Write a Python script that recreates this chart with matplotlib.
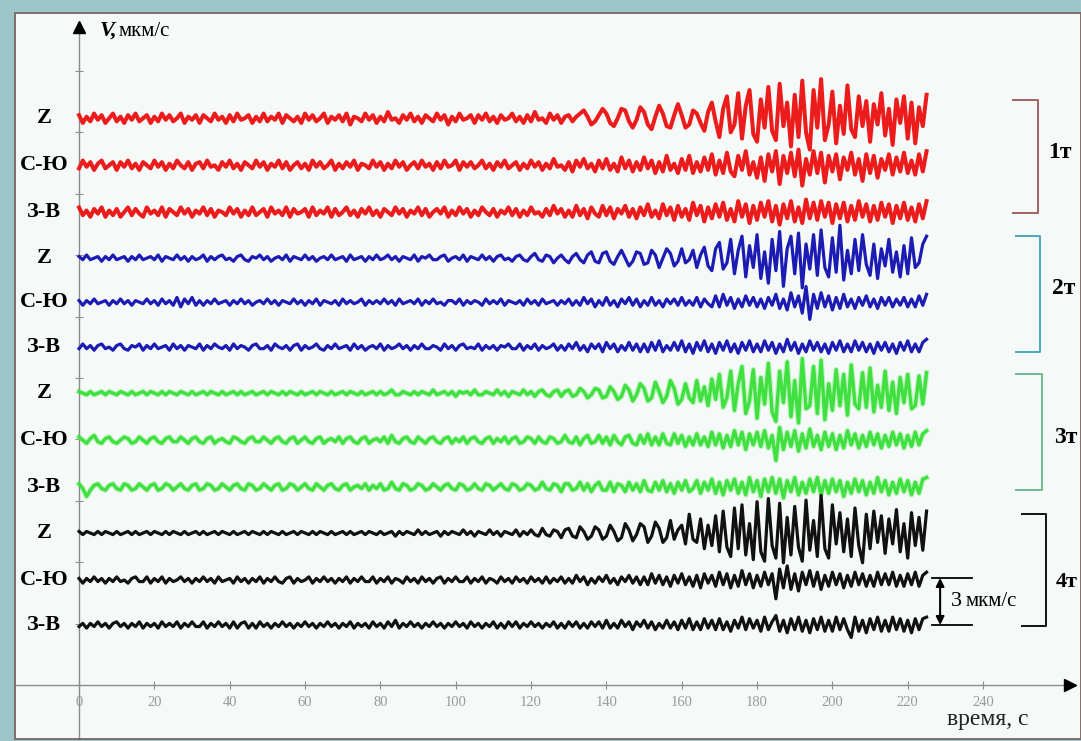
import numpy as np
import matplotlib.pyplot as plt
from matplotlib.patches import Rectangle

# velocity, tenths of мкм/с, one reading per second from 0 to 225 s
RED_Z = """
2 -3 1 -2 3 -1 2 -3 0 3   -2 1 -3 2 -1 3 -2 0 2 -3   1 -2 3 -1 2 -2 0 3 -3 1
-1 2 -3 2 0 -2 3 -1 1 -3  2 -2 3 -1 0 2 -3 1 -2 3   -2 1 -1 3 -3 2 0 -2 1 -3
3 -1 2 -2 0 3 -3 1 -1 2   -2 3 -4 1 0 -2 3 -1 2 -3   1 -2 4 -1 0 -3 2 -1 3 -2
1 -3 2 0 -2 3 -1 2 -4 1   -2 3 -1 0 2 -3 2 -1 3 -2   1 -3 2 -1 0 3 -2 1 -3 2
-2 4 -1 0 -3 3 -1 2 -3 1  2 -2 1 3 5 1 -4 -2 2 6    3 -3 -5 0 6 5 -2 -6 -1 7
4 -4 -7 1 8 3 -5 -6 2 9   2 -6 -4 5 3 -3 -8 4 10 -2  -12 6 14 -9 -4 16 -13 8 18 -10
-15 12 -6 20 -8 -14 22 -5 10 -18  15 -12 24 -9 -20 18 -6 25 -14 -4
17 -16 8 -10 21 -7 -12 14 -5 11   -15 9 -4 16 -11 6 -17 12 -3 14   -13 10 -16 7 -5 15
"""
RED_NS = """
-2 3 -1 2 -3 1 3 -2 0 2   -3 2 -1 3 -2 1 -3 2 0 -2   3 -1 2 -3 1 -2 3 0 -2 2
-3 1 2 -2 3 -1 0 -3 2 -1  3 -2 1 -3 2 0 -2 3 -1 2   -3 1 -1 3 -2 2 -3 0 2 -2
1 -3 3 -1 2 -2 0 3 -3 1   -2 2 -1 3 -3 1 0 -2 3 -1   2 -3 1 -2 3 -1 2 -3 0 2
-2 3 -1 1 -3 2 -2 3 -1 0  3 -3 2 -1 2 -2 0 3 -2 1   -3 2 -1 3 -2 0 2 -3 1 -2
3 -1 2 -3 1 -2 4 -1 0 -3  2 -4 3 -1 4 -2 1 -4 3 -2   4 -3 1 -4 5 -2 3 -4 2 -3
5 -2 3 -5 2 -4 6 -3 1 -5  4 -3 6 -5 2 -4 5 -3 7 -6   3 -5 8 -4 -7 6 -3 9 -6 2
-8 5 -10 7 -4 9 -12 6 -5 8  -7 10 -13 4 -6 9 -5 8 -11 6
-4 7 -9 5 -3 8 -6 4 -10 7   -5 6 -8 4 -3 7 -6 5 -4 8   -5 3 -6 7 -4 9
"""
RED_EW = """
3 -2 1 -3 2 -1 3 -3 1 -2  2 -3 0 3 -2 2 -1 -3 3 -1   1 -2 3 -3 2 0 -2 3 -1 2
-3 1 -1 3 -2 2 -3 1 0 -2  3 -1 2 -3 1 -2 3 -2 0 2    -3 3 -1 1 -2 3 -3 2 -1 0
2 -3 3 -2 1 -1 3 -3 2 -2  0 3 -2 1 -3 2 -1 3 -2 1    -3 2 0 -2 3 -1 2 -3 1 -1
3 -2 2 -3 0 2 -1 3 -3 1   -2 3 -1 2 -3 1 -2 3 0 -2   2 -3 1 -1 3 -2 2 -3 1 -2
3 -1 0 -3 2 -2 4 -1 2 -3  1 -3 4 -2 2 -4 3 -1 -3 4   -2 3 -4 2 -1 4 -3 2 -4 3
-2 5 -3 1 -4 5 -2 3 -5 4  -3 2 -5 6 -2 4 -6 3 -4 5   -3 6 -5 2 -6 7 -3 5 -7 4
-5 6 -3 7 -6 4 -8 5 -4 7  -6 3 -7 8 -4 6 -5 7 -3 6
-7 5 -4 6 -6 4 -5 7 -3 5  -6 4 -5 6 -3 5 -7 4 -4 6   -5 3 -6 5 -4 7
"""
BLUE_Z = """
1 -1 2 -1 0 1 -2 1 -1 2   -1 0 1 -2 1 -1 2 -1 0 1   -1 2 -2 1 0 -1 2 -1 1 -2
1 -1 0 2 -2 1 -1 1 2 -1   0 -2 1 2 -1 -2 1 0 2 -1   1 -2 0 1 -1 2 -2 1 0 -1
2 -1 1 -2 0 1 -1 2 -1 0   1 -2 2 -1 0 1 -2 1 -1 2   -1 0 2 -1 1 -2 1 0 -1 2
-2 1 0 2 -1 -1 1 2 -2 0   1 -1 2 -2 1 0 -1 2 -1 1   -2 1 2 -1 0 -2 1 2 -1 -2
1 3 -1 -2 2 1 -3 0 2 -1   -3 1 3 -1 -3 2 4 -2 -3 3   4 -2 -4 1 5 0 -5 -2 4 3
-4 -3 5 2 -6 0 6 3 -5 -2  6 -3 -1 5 -6 2 7 -5 -8 6   10 -7 -3 12 -10 5 14 -12 8 -6
15 -13 4 -16 12 -8 17 -18 6 14   -10 16 -19 9 -7 15 -11 18 -6 -12
13 -9 21 -14 5 -10 12 -8 15 -4   -11 9 -13 6 -5 12 -9 4 -12 8   -10 13 -6 -3 9 14
"""
BLUE_NS = """
1 -2 1 -1 2 -1 0 1 -2 1   -1 2 -1 1 -2 1 0 -1 2 -1   1 -2 2 -1 1 -2 3 -3 2 -1
3 -2 1 -2 1 -1 2 -1 0 1   -2 1 -1 2 -1 1 -2 0 1 -1   2 -1 1 -2 1 0 -1 2 -1 1
-2 1 -1 2 -2 1 0 -1 1 -2  2 -1 1 -1 0 2 -2 1 -1 1    -1 2 -1 1 -2 2 -1 0 1 -1
2 -2 1 -1 2 -1 0 -2 1 1   -1 2 -2 1 -1 1 0 -2 2 -1   1 -1 2 -2 1 0 -1 1 -2 2
-1 1 -2 2 -1 0 1 -2 1 -1  2 -2 1 -2 3 -1 2 -3 1 -2   3 -2 1 -3 2 -1 3 -2 2 -3
1 -2 3 -2 1 -3 2 -1 2 -2  3 -2 1 -2 3 -3 2 -1 -3 4   -3 5 -2 3 -4 2 -3 4 -2 3
-3 2 -4 3 -2 5 -4 2 -5 6  -3 4 -7 10 -11 5 -4 6 -3 4
-5 3 -4 5 -3 2 -4 3 -2 4  -3 2 -4 3 -2 3 -3 2 -2 3   -3 2 -3 4 -2 5
"""
BLUE_EW = """
-1 2 -1 1 -2 1 2 -1 0 -2  1 2 -1 -2 1 0 2 -2 1 -1    2 -1 0 1 -2 2 -1 1 -2 1
0 -1 2 -2 1 -1 2 0 -1 1   -2 2 -1 1 0 -2 1 2 -1 -1   1 -2 2 0 -1 1 -2 1 2 -2
1 -1 0 2 -1 -2 1 -1 2 -1  0 1 -2 2 -1 1 -2 0 1 -1    2 -2 1 -1 0 2 -1 1 -2 1
-1 2 -1 -1 1 0 -2 2 -1 1  -2 1 2 -1 0 -1 2 -2 1 -1   1 -2 1 0 2 -1 -1 2 -2 1
-1 2 -2 1 -1 0 2 -2 1 -2  2 -1 3 -2 1 -3 2 -1 2 -3   3 -1 2 -3 1 -2 3 -2 2 -3
2 -3 3 -2 4 -3 1 -2 3 -2  4 -3 2 -4 3 -2 4 -3 2 -4   3 -2 4 -3 2 -4 3 -2 4 -3
2 -3 4 -2 3 -4 2 -3 5 -2  3 -4 2 -3 4 -2 3 -3 2 -4
3 -2 4 -3 2 -3 4 -2 3 -3  2 -4 3 -2 3 -3 2 -4 3 -2   4 -3 2 -3 3 5
"""
GREEN_Z = """
1 0 -1 1 -1 0 1 -1 1 0    -1 1 0 -1 1 -1 0 1 -1 1    0 -1 1 -1 1 0 -1 1 0 -1
1 -1 0 1 -1 1 0 -1 1 -1   0 1 -1 1 -1 0 1 -1 0 1     -1 1 0 -1 1 -1 1 0 -1 1
-1 0 1 -1 1 0 -1 1 -1 0   1 -1 1 0 -1 1 -1 0 1 -1    1 -1 0 2 -1 -1 1 0 -1 1
-1 1 0 -1 2 -1 0 1 -1 1   -2 1 0 1 -1 2 -1 -1 1 0    -1 2 -1 1 -2 1 0 -1 2 -1
1 -2 1 2 -1 -2 1 2 -2 1   2 -2 -1 3 1 -3 -1 3 2 -3   -2 4 1 -4 -2 5 2 -5 -1 6
3 -5 -3 7 1 -6 -2 8 3 -7  -4 6 -3 -6 8 -5 4 -8 9 -4  12 -9 -3 14 -11 6 17 -13 -5 15
-16 10 -7 19 -12 -18 14 -6 20 -15   8 -19 22 -10 -8 17 -13 21 -17 6
-11 15 -8 12 -14 18 -7 -10 13 -9    16 -12 5 -9 14 -11 7 -13 10 -6   12 -10 -8 11 -7 13
"""
GREEN_NS = """
2 0 -2 1 3 -1 -2 1 2 -1   -2 0 2 1 -2 -1 2 0 -2 1    2 -1 -2 1 2 -1 -1 2 0 -2
1 2 -1 -2 1 2 -2 0 1 -1   -2 2 1 -1 -2 1 2 -1 -1 2   0 -2 1 2 -1 -2 1 2 -2 0
2 -1 -2 1 2 -2 0 1 -1 2   -2 1 2 -1 -2 1 2 -2 0 1    -1 2 -2 3 -1 -2 1 2 -1 -2
2 0 -2 1 2 -1 -2 1 2 -2   1 -1 2 -2 1 2 -1 -2 1 2    -2 1 -1 2 -2 1 2 -2 -1 2
1 -2 2 -1 -2 2 1 -2 -1 3  -1 -2 2 -3 1 3 -2 -1 3 -2  2 -3 3 -1 -3 2 3 -2 -3 3
-2 4 -3 2 -3 4 -2 -3 4 -2 3 -4 2 -3 4 -3 2 -4 5 -3   4 -5 3 -4 6 -3 5 -6 4 -3
5 -4 6 -5 3 -13 8 -6 5 -4  6 -7 4 -5 7 -4 3 -6 5 -4
4 -6 3 -5 6 -3 4 -5 3 -4   5 -3 4 -5 3 -4 5 -3 4 -5   3 -4 5 -3 4 6
"""
GREEN_EW = """
2 -1 -6 -2 1 2 -1 -2 1 2  -1 -2 2 1 -2 -1 2 0 -2 1   2 -2 -1 2 1 -2 0 2 -1 -2
1 2 -2 -1 2 1 -2 -1 2 0   -2 1 2 -1 -2 2 1 -2 -1 2   0 -2 1 2 -2 -1 2 1 -2 0
2 -1 -2 2 0 -2 1 2 -1 -2  1 2 -2 0 1 -1 2 -2 1 -1    2 -2 -1 3 -1 -2 2 1 -2 -1
2 1 -2 -1 2 0 -2 1 2 -1   -2 2 1 -2 -1 2 -1 -2 2 1   -2 0 2 -1 -2 2 1 -2 -1 2
1 -2 -1 3 -1 -2 2 1 -3 2  2 -2 -1 3 -2 2 -3 1 3 -2   -2 3 -3 2 1 -3 3 -2 2 -3
4 -2 -3 3 -2 4 -3 2 -4 3  -2 4 -3 -1 4 -4 3 -2 5 -4  3 -5 4 -2 5 -4 3 -5 6 -3
4 -6 5 -3 6 -4 5 -7 4 -3  6 -5 3 -4 5 -3 6 -5 4 -4
5 -3 4 -6 3 -4 5 -3 4 -5  3 -4 6 -3 4 -5 3 -4 5 -3   4 -5 3 -4 5 6
"""
BLACK_Z = """
1 -1 1 0 -1 1 -1 1 0 -1   1 -1 0 1 -1 1 -1 0 1 -1    1 0 -1 1 -1 1 0 -1 1 -1
0 1 -1 1 -1 0 1 -1 1 0    -1 1 -1 0 1 -1 1 0 -1 1    -1 1 0 -1 1 -1 0 1 -1 1
0 -1 1 -1 1 0 -1 1 -1 0   1 -1 1 -1 0 1 -1 1 0 -1    1 -1 0 1 -2 1 -1 1 0 -1
2 -1 1 -1 0 1 -2 1 -1 1   0 -1 2 -1 1 -2 1 0 -1 2    -1 1 -2 1 0 -1 2 -2 1 -1
2 -1 -2 3 -1 -2 2 1 -3 2  3 -2 -3 4 1 -4 -2 4 2 -4   -2 5 1 -5 -3 6 2 -5 -1 6
4 -6 -2 7 3 -6 -3 8 -4 2  5 -7 12 -4 -6 9 -10 5 -8 11  -12 14 -9 -15 16 -10 18 -14 6 -17
20 -12 -18 22 -8 -16 19 -19 10 -14   17 -9 -18 21 -11 8 -15 24 -10 -16
18 -7 13 -12 9 -15 16 -8 -19 12      -10 14 -6 11 -13 9 -7 15 -12 6   -16 13 -8 10 -11 14
"""
BLACK_NS = """
1 -2 1 -1 2 -1 1 -2 1 -1  2 -1 0 -2 1 2 -1 -1 2 -2   1 -1 2 -2 1 -1 0 2 -1 1
-2 1 -1 2 -1 1 -2 2 -1 0  1 -2 2 -1 1 -2 1 -1 2 -2   1 -1 2 -1 -2 1 2 -2 1 -1
0 2 -2 1 -1 2 -1 1 -2 1   -1 2 -2 1 -1 2 -1 -1 2 -2  1 -1 2 -2 1 0 -2 2 -1 1
-2 2 -1 1 -2 1 2 -2 1 -1  2 -1 -1 2 -2 1 -1 2 -2 1   0 -2 2 -1 1 -2 2 -1 1 -2
2 -1 1 -2 2 -2 1 -1 2 -2  1 -2 3 -1 2 -3 1 -2 2 -1   3 -2 1 -3 2 -1 3 -2 2 -3
2 -3 4 -2 3 -3 2 -4 3 -2  4 -3 2 -4 3 -5 4 -2 3 -4   5 -3 4 -5 3 -4 6 -3 4 -5
3 -4 5 -3 4 -12 7 -5 9 -6  4 -7 5 -3 6 -4 5 -6 3 -4
5 -3 4 -5 3 -4 5 -3 4 -4   3 -4 5 -3 4 -3 5 -4 3 -4   4 -3 5 -4 3 5
"""
BLACK_EW = """
-1 1 -2 1 -1 2 -1 1 -2 1  2 -1 1 -2 1 -1 2 -2 1 -1   1 -2 2 -1 1 -1 2 -2 1 -1
2 -1 -1 2 -2 1 -1 2 -1 1  -2 2 -2 1 2 -2 1 -2 2 -1   1 -2 1 -1 2 -1 1 -2 1 -1
2 -1 1 -2 1 -1 2 -1 1 -2  1 -1 2 -2 1 -1 1 -2 2 -1   1 -2 2 -1 3 -2 1 -1 2 -1
1 -2 1 -1 2 -1 1 -2 1 -1  2 -1 1 -2 2 -1 1 -2 1 -1   2 -2 1 -2 2 -1 2 -2 1 -1
2 -1 1 -2 1 -1 2 -2 1 -2  2 -1 2 -2 1 -2 2 -1 2 -2   3 -2 1 -2 3 -1 2 -3 2 -1
3 -2 2 -3 1 -2 3 -2 2 -3  3 -2 4 -3 2 -3 4 -2 3 -3   4 -3 2 -4 3 -2 5 -3 4 -2
3 -4 5 -3 2 6 -4 3 -5 4   -3 5 -4 3 -5 4 -3 5 -4 3
-4 5 -3 4 -3 -8 5 -4 3 -5  4 -3 5 -4 3 -4 5 -3 4 -4  3 -5 4 -3 4 5
"""

TRACES = [RED_Z, RED_NS, RED_EW, BLUE_Z, BLUE_NS, BLUE_EW,
          GREEN_Z, GREEN_NS, GREEN_EW, BLACK_Z, BLACK_NS, BLACK_EW]
COMPONENTS = ["Z", "С-Ю", "З-В"] * 4
STATIONS = ["1т", "2т", "3т", "4т"]
X_TICKS = [0, 20, 40, 60, 80, 100, 120, 140, 160, 180, 200, 220, 240]
SCALE = 3  # мкм/с

# layout (data units: seconds, мкм/с)
offsets = [36.18, 33.18, 30.19, 27.25, 24.44, 21.57,
           18.63, 15.63, 12.64, 9.70, 6.70, 3.83]
trace_colors = ["#ec1c1c", "#1c1cb4", "#3fe03f", "#111111"]
trace_lw = [2.9, 2.3, 2.4, 2.3]
bracket_colors = ["#a06262", "#4aa8b8", "#72b890", "#111111"]
brackets = [(247.9, 254.6, 37.33, 30.12), (248.7, 255.1, 28.65, 21.25),
            (248.7, 255.6, 19.85, 12.45), (250.3, 256.7, 10.91, 3.77)]
station_label_pos = [(257.4, 34.0), (258.3, 25.3), (258.8, 15.8), (259.3, 6.6)]

serif = "Liberation Serif"

fig = plt.figure(figsize=(10.81, 7.41), dpi=100, facecolor="#9cc6c9")
W, H = 1081, 741
ax = fig.add_axes([15 / W, 2 / H, 1066 / W, 726 / H])
ax.set_facecolor("#f5f9f8")
ax.set_xlim(-17.0, 266.0)
ax.set_ylim(-3.45, 42.9)

# panel border
for side in ["top", "right"]:
    ax.spines[side].set_visible(False)
fig.add_artist(Rectangle((15 / W, 2 / H), 1066 / W, 726 / H, transform=fig.transFigure,
                         fill=False, edgecolor="#7a6464", lw=1.3, zorder=5))

# axes through zero
ax.spines["left"].set_position(("data", 0))
ax.spines["bottom"].set_position(("data", 0))
ax.spines["left"].set_bounds(-3.45, 41.8)
ax.spines["bottom"].set_bounds(-17.0, 262.0)
for side in ["left", "bottom"]:
    ax.spines[side].set_color("#8c8c8c")
    ax.spines[side].set_linewidth(1.0)
ax.plot(0, 42.0, marker="^", color="k", ms=9, clip_on=False, zorder=6)
ax.plot(263.0, 0, marker=">", color="k", ms=9, clip_on=False, zorder=6)

ax.set_xticks(X_TICKS)
ax.set_xticklabels([str(v) for v in X_TICKS], fontfamily=serif, fontsize=10.5, color="#9a9a9a")
ax.tick_params(axis="x", direction="inout", length=6, color="#8c8c8c", pad=5)
ax.set_yticks([3.92 * k for k in range(1, 11)])
ax.set_yticklabels([])
ax.tick_params(axis="y", direction="inout", length=6, color="#8c8c8c")

for i, s in enumerate(TRACES):
    v = np.array(s.split(), dtype=float) / 10
    t = np.linspace(0, 225, len(v))
    g = i // 3
    if g == 2:
        ax.plot(t, offsets[i] + v, color="#9cf09c", lw=4.0, alpha=0.6, zorder=2)
    ax.plot(t, offsets[i] + v, color=trace_colors[g], lw=trace_lw[g], zorder=3)
    ax.text(-9.3, offsets[i], COMPONENTS[i], ha="center", va="center",
            fontfamily=serif, fontweight="bold", fontsize=16)

for g, (x0, x1, y0, y1) in enumerate(brackets):
    ax.plot([x0, x1, x1, x0], [y0, y0, y1, y1], color=bracket_colors[g], lw=1.4)
    lx, ly = station_label_pos[g]
    ax.text(lx, ly, STATIONS[g], ha="left", va="center", fontfamily=serif,
            fontweight="bold", fontsize=17 if g < 3 else 16)

# scale bar
sb0, sb1 = offsets[-1], offsets[-1] + SCALE
ax.plot([226.4, 237.1], [sb0, sb0], color="k", lw=1.3)
ax.plot([226.4, 237.1], [sb1, sb1], color="k", lw=1.3)
ax.annotate("", xy=(228.6, sb1), xytext=(228.6, sb0),
            arrowprops=dict(arrowstyle="<|-|>", color="k", lw=1.5, mutation_scale=12,
                            shrinkA=0, shrinkB=0))
ax.text(231.4, (sb0 + sb1) / 2, str(SCALE), ha="left", va="center", fontfamily=serif,
        fontsize=16)
ax.text(235.3, (sb0 + sb1) / 2, "мкм/с", ha="left", va="center", fontfamily=serif,
        fontsize=15)

# axis titles
ax.text(5.4, 41.8, "V,", ha="left", va="center", fontfamily=serif, fontstyle="italic",
        fontweight="bold", fontsize=16)
ax.text(10.6, 41.7, "мкм/с", ha="left", va="center", fontfamily=serif, fontsize=15)
ax.text(241.3, -2.2, "время, с", ha="center", va="center", fontfamily=serif, fontsize=17,
        color="#222222")

fig.savefig("out.png", dpi=100, facecolor=fig.get_facecolor())
